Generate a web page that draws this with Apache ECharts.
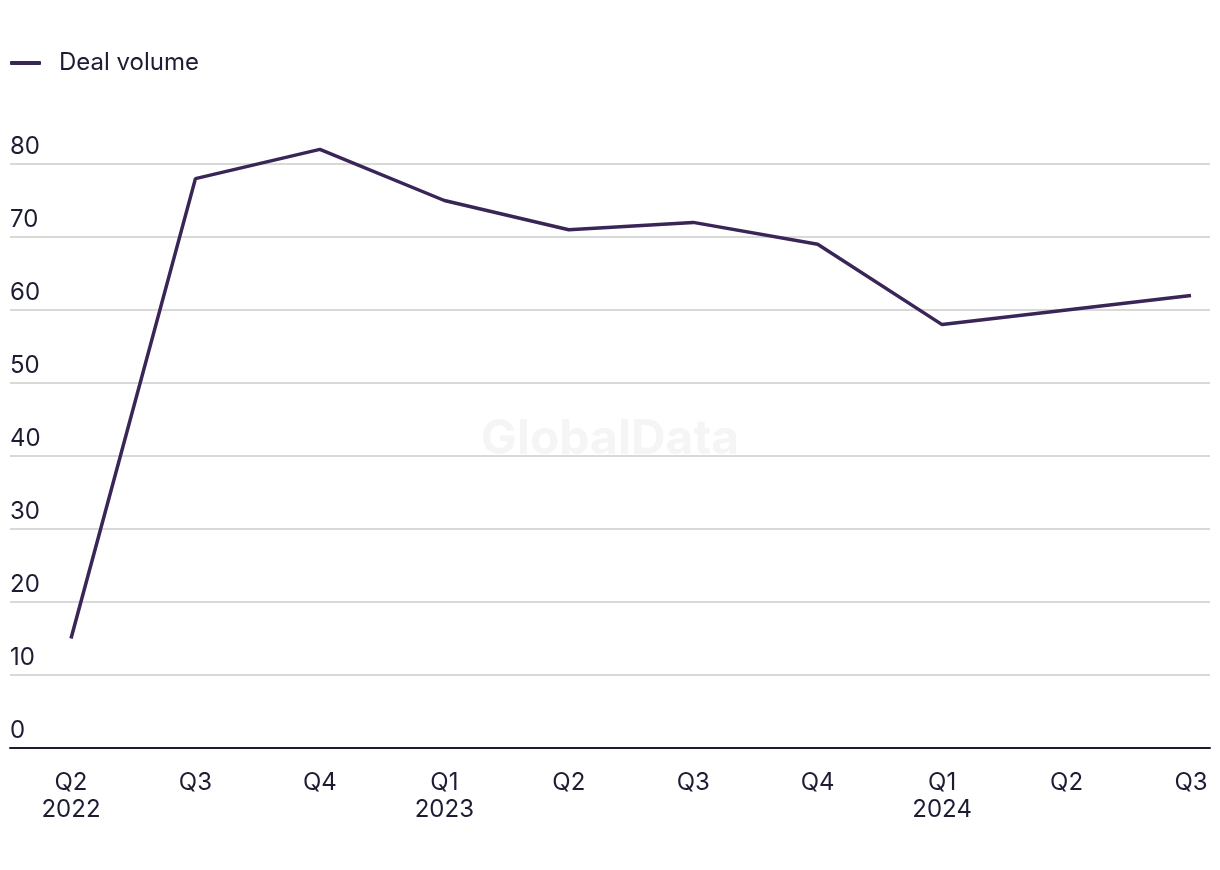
<!DOCTYPE html>
<html>
<head>
<meta charset="utf-8">
<script src="https://cdn.jsdelivr.net/npm/echarts@6/dist/echarts.min.js"></script>
<style>
html,body{margin:0;padding:0;background:#fff;}
#chart{width:1220px;height:870px;}
</style>
</head>
<body>
<div id="chart"></div>
<script>
var quarters = ['Q2', 'Q3', 'Q4', 'Q1', 'Q2', 'Q3', 'Q4', 'Q1', 'Q2', 'Q3'];
var years = ['2022', '', '', '2023', '', '', '', '2024', '', ''];
var dealVolume = [15, 78, 82, 75, 71, 72, 69, 58, 60, 62];
var yTicks = [0, 10, 20, 30, 40, 50, 60, 70, 80];

var categories = quarters.map(function (q, i) { return years[i] ? q + '\n' + years[i] : q; });
var textColor = '#1c1c33';
var lineColor = '#3a2557';
var fontFamily = 'Inter, "Noto Sans", "Liberation Sans", sans-serif';

var chart = echarts.init(document.getElementById('chart'), null, {renderer: 'canvas'});
chart.setOption({
  backgroundColor: '#ffffff',
  animation: false,
  textStyle: {fontFamily: fontFamily},
  graphic: [{
    type: 'text',
    left: 'center',
    top: 416,
    style: {text: 'GlobalData', fontSize: 48, fontWeight: 'bold', fill: '#f5f5f5', fontFamily: 'Inter, "Liberation Sans", sans-serif'},
    z: 0
  }],
  legend: {
    left: 5,
    top: 46,
    itemWidth: 31,
    itemHeight: 4,
    icon: 'roundRect',
    textStyle: {color: textColor, fontSize: 24, padding: [0, 0, 0, 13], fontFamily: fontFamily},
    data: ['Deal volume']
  },
  grid: [
    {left: 10, right: 10, top: 164, bottom: 122},
    {left: 71, right: 29, top: 164, bottom: 122}
  ],
  xAxis: [
    {
      gridIndex: 0, type: 'category', data: categories, boundaryGap: false,
      axisLine: {show: true, lineStyle: {color: textColor, width: 2}},
      axisTick: {show: false}, axisLabel: {show: false}, splitLine: {show: false}
    },
    {
      gridIndex: 1, type: 'category', data: categories, boundaryGap: false,
      axisLine: {show: false}, axisTick: {show: false},
      axisLabel: {color: textColor, fontSize: 24, lineHeight: 27, margin: 21, interval: 0, fontFamily: fontFamily},
      splitLine: {show: false}
    }
  ],
  yAxis: [
    {
      gridIndex: 0, type: 'value', min: yTicks[0], max: yTicks[yTicks.length - 1], interval: 10,
      axisLine: {show: false}, axisTick: {show: false},
      axisLabel: {inside: true, margin: 0, color: textColor, fontSize: 24, verticalAlign: 'bottom', padding: [0, 0, 5, 0], fontFamily: fontFamily},
      splitLine: {show: true, lineStyle: {color: '#d9d9d9', width: 2}}
    },
    {
      gridIndex: 1, type: 'value', min: yTicks[0], max: yTicks[yTicks.length - 1], interval: 10,
      show: false, splitLine: {show: false}
    }
  ],
  series: [{
    name: 'Deal volume',
    type: 'line',
    xAxisIndex: 1,
    yAxisIndex: 1,
    data: dealVolume,
    clip: false,
    showSymbol: false,
    symbol: 'none',
    lineStyle: {color: lineColor, width: 3.5},
    itemStyle: {color: lineColor},
    z: 5
  }]
});
</script>
</body>
</html>
